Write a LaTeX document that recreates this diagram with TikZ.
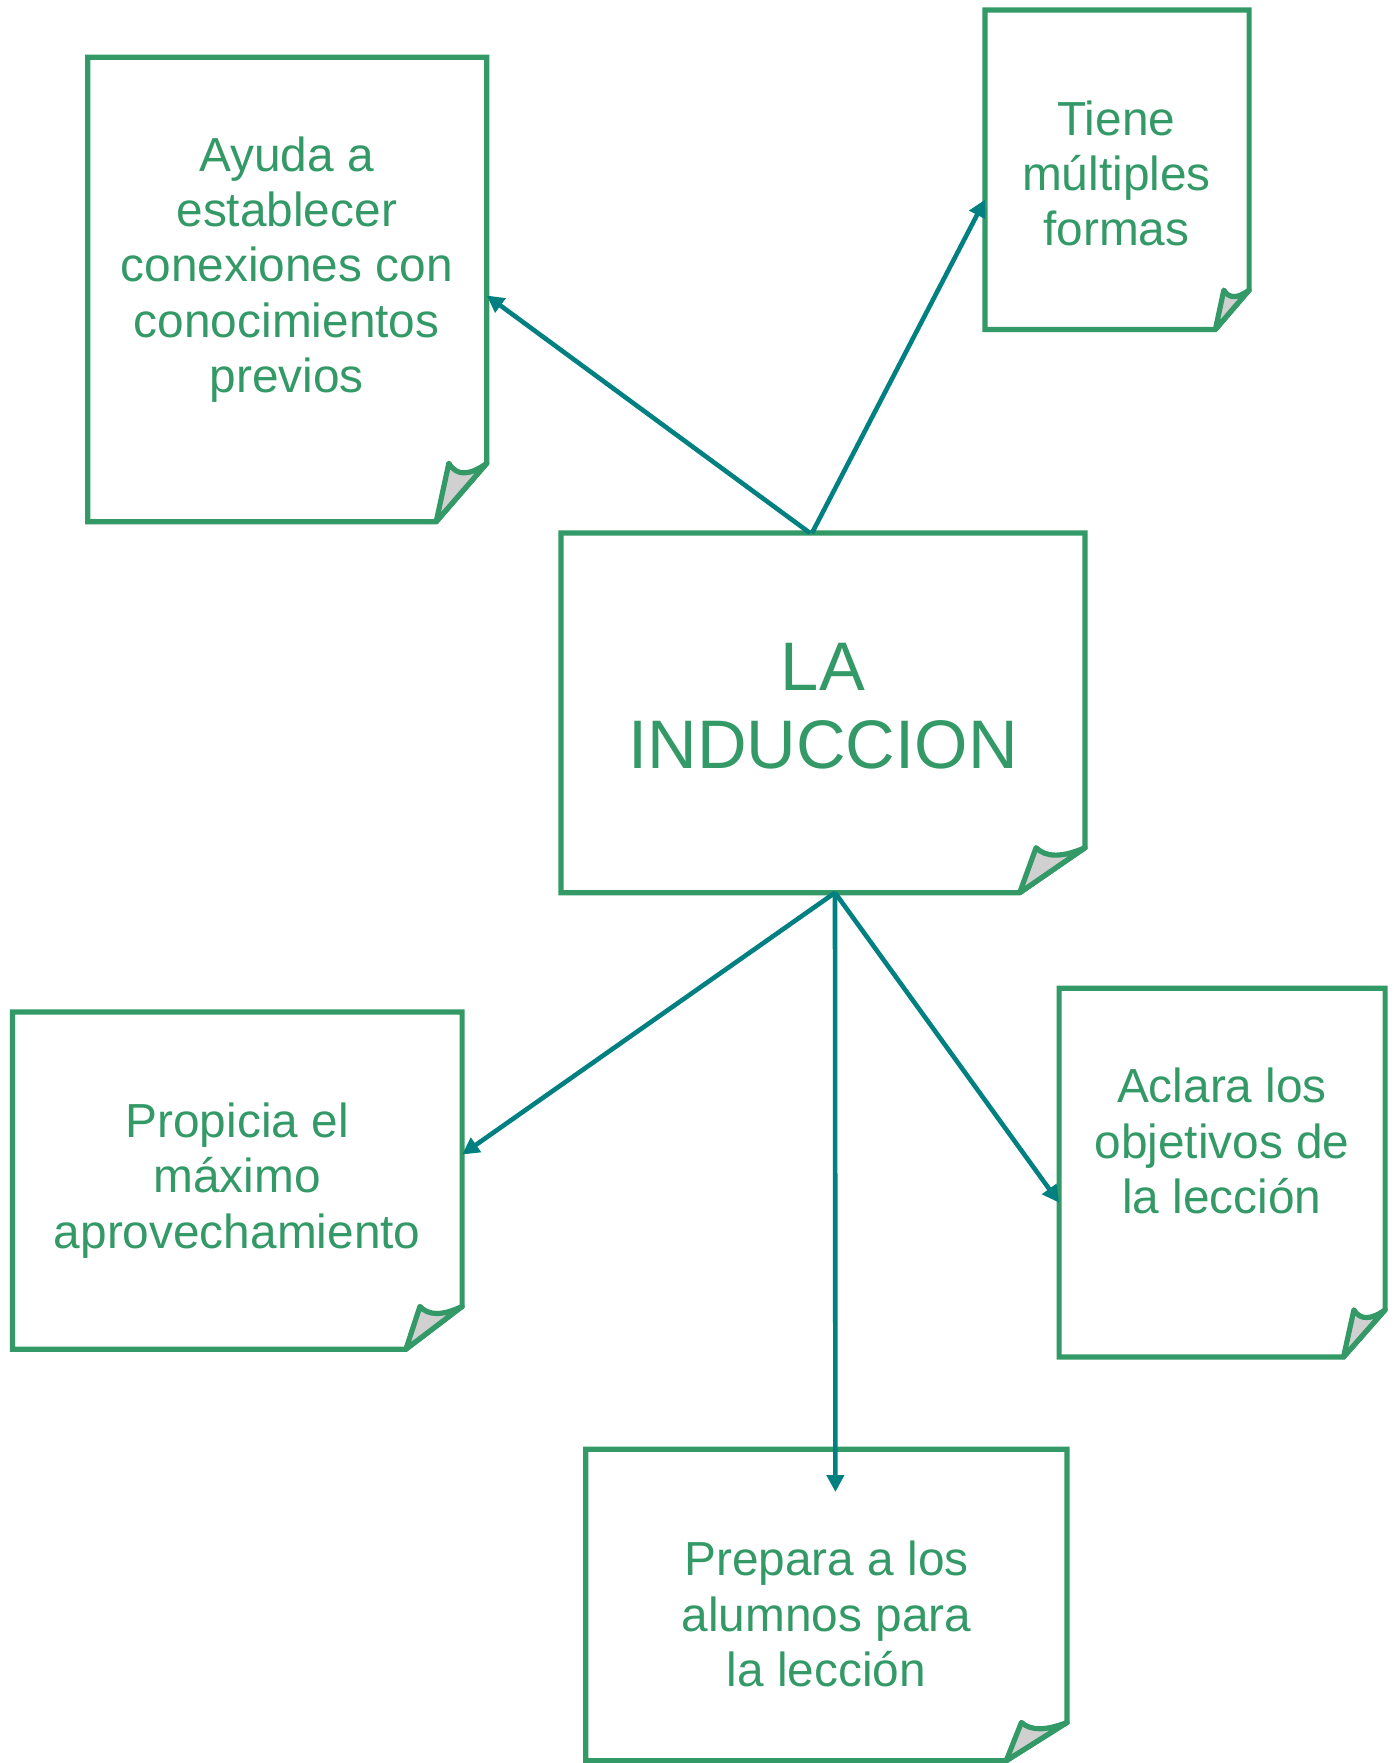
\documentclass[tikz,border=0pt]{standalone}
\usepackage{fontspec}
\setmainfont{Liberation Sans}
\usetikzlibrary{arrows.meta,fit}
\definecolor{boxgreen}{RGB}{51,153,102}
\definecolor{arrteal}{RGB}{0,128,128}
\definecolor{foldgray}{RGB}{208,208,208}
\tikzset{
  boxline/.style={draw=boxgreen,line width=5.2pt,line join=miter},
  foldshape/.style={draw=boxgreen,fill=foldgray,line width=5.2pt,line join=round},
  txt/.style={text=boxgreen,align=center,inner sep=0pt,font=\fontsize{47.8}{55.2}\selectfont},
  bigtxt/.style={text=boxgreen,align=center,inner sep=0pt,font=\fontsize{68.7}{78}\selectfont},
  conn/.style={draw=arrteal,line width=4.6pt,-{Triangle[width=17pt,length=17pt]}},
}
\newcommand\pagebox[7]{% name x1 y1 x2 y2 foldx foldy
  \coordinate (#1-nw) at (#2,#3);
  \coordinate (#1-se) at (#4,#5);
  \node[inner sep=0pt,outer sep=0pt,fit=(#1-nw)(#1-se)] (#1) {};
  \draw[boxline] (#6,#5) -- (#2,#5) -- (#2,#3) -- (#4,#3) -- (#4,#7) -- cycle;
  \pgfmathsetmacro\tipx{#6+0.25*(#4-#6)}
  \pgfmathsetmacro\cax{\tipx+0.15*(#4-#6)}
  \pgfmathsetmacro\cbx{#4-0.35*(#4-#6)}
  \pgfmathsetmacro\cy{#7+0.22*(#5-#7)}
  \draw[foldshape] (#6,#5) -- (\tipx,#7) .. controls (\cax,\cy) and (\cbx,\cy) .. (#4,#7) -- cycle;
}
\begin{document}
\begin{tikzpicture}[x=1pt,y=-1pt]
\useasboundingbox (0,0) rectangle (1393,1763);
\pagebox{ayuda}{87.7}{57.3}{486.8}{521.7}{436.2}{463.2}
\pagebox{tiene}{984.9}{10.1}{1249.1}{329.4}{1215.4}{290.1}
\pagebox{ind}{561}{533}{1085}{892.7}{1019.7}{847.7}
\pagebox{prop}{12.4}{1011.9}{462.1}{1349.2}{405.9}{1306.4}
\pagebox{aclara}{1059.1}{988.3}{1385.1}{1357}{1343.5}{1309.8}
\pagebox{prep}{585.8}{1449.2}{1067}{1760.7}{1006.2}{1722.4}

\node[txt] (ayudaT) at (286.7,269.5) {Ayuda a\\establecer\\conexiones con\\conocimientos\\previos};
\node[txt] (tieneT) at (1116.4,173.5) {Tiene\\múltiples\\formas};
\node[bigtxt] (indT) at (823,706.6) {LA\\INDUCCION};
\node[txt] (propT) at (237.2,1180.5) {Propicia el\\máximo\\aprovechamiento};
\node[txt] (aclaraT) at (1222,1141) {Aclara los\\objetivos de\\la lección};
\node[txt] (prepT) at (826.4,1614) {Prepara a los\\alumnos para\\la lección};

\coordinate (downEnd) at (835.4,1492);
\draw[conn] ([xshift=-13pt]ind.north) -- ([yshift=-6pt]ayuda.east);
\draw[conn] ([xshift=-11pt]ind.north) -- ([yshift=-30pt]tiene.west);
\draw[conn] ([xshift=12pt]ind.south) -- ([yshift=26pt]prop.east);
\draw[conn] ([xshift=12pt]ind.south) -- ([yshift=-30pt]aclara.west);
\draw[conn] ([xshift=12pt]ind.south) -- (downEnd);
\end{tikzpicture}
\end{document}
